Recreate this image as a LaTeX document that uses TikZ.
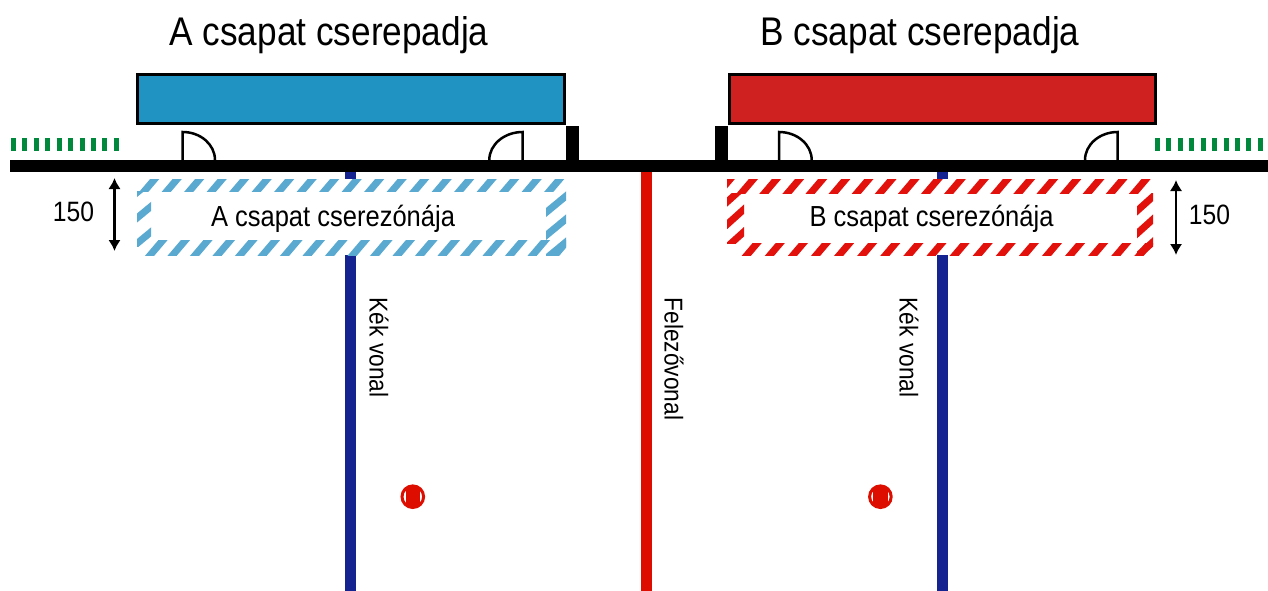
\documentclass[tikz,border=0pt]{standalone}
\usepackage{fontspec}
\setmainfont[FakeStretch=0.88]{Liberation Sans}
\usetikzlibrary{calc}
\usetikzlibrary{arrows.meta}
\tikzset{>=Latex}
\definecolor{teamblue}{HTML}{2193C2}
\definecolor{teamred}{HTML}{CE2120}
\definecolor{hatchblue}{HTML}{5AA9D1}
\definecolor{hatchred}{HTML}{E2110B}
\definecolor{linered}{HTML}{DD0E00}
\definecolor{lineblue}{HTML}{14238F}
\definecolor{benchgreen}{HTML}{00883C}
\tikzset{
  bench/.style={draw=black,line width=3pt},
  door/.style={draw=black,line width=2.5pt},
  wall/.style={fill=black},
  tick/.style={benchgreen,line width=12.4pt,dash pattern=on 5pt off 6.43pt},
  court/.style={line width=11pt},
  size/.style={{Latex[length=11pt,width=12.5pt]}-{Latex[length=11pt,width=12.5pt]},line width=2.4pt},
  title/.style={font=\fontsize{40}{46}\selectfont},
  zone/.style={font=\fontsize{29}{34}\selectfont},
  mark150/.style={font=\fontsize{28}{34}\selectfont},
  linelabel/.style={font=\fontsize{25.8}{30}\selectfont,rotate=-90},
}
% colour, clip corners, first stripe, step to the next, last index, direction
\newcommand{\hatchband}[7]{
  \begin{scope}
    \clip (#2) rectangle (#3);
    \foreach \k in {0,...,#6}
      \draw[#1,line width=7pt] ($(#4)+\k*(#5)-(#7)$) -- ++($2*(#7)$);
  \end{scope}
}
% centre of a ball
\newcommand{\ball}[1]{
  \begin{scope}[shift={(#1)}]
    \draw[linered,line width=3pt,fill=white] (0,0) circle (10.8);
    \clip (0,0) circle (10.8);
    \fill[linered] (-7.2,-12) rectangle (7.2,12);
  \end{scope}
}
\begin{document}
\begin{tikzpicture}[x=1pt,y=-1pt]
  \useasboundingbox (0,0) rectangle (1268,591);

  % titles
  \node[title] (titleA) at (329,35) {A csapat cserepadja};
  \node[title] (titleB) at (920,35) {B csapat cserepadja};

  % benches
  \draw[bench,fill=teamblue] (137.5,75) rectangle (564,124);
  \draw[bench,fill=teamred] (729.5,75) rectangle (1155,124);

  % doors
  \draw[door] (215,160) arc (0:-90:32.3 and 28) -- (182.7,160);
  \draw[door] (489.3,160) arc (-180:-90:33.4 and 28) -- (522.7,160);
  \draw[door] (811.7,160) arc (0:-90:32.7 and 28) -- (779,160);
  \draw[door] (1085,160) arc (-180:-90:32.7 and 28) -- (1117.7,160);

  % green marks
  \draw[tick] (11,144.5) -- (119.5,144.5);
  \draw[tick] (1155,144.5) -- (1268,144.5);

  % court lines
  \draw[lineblue,court] (350.7,171) -- (350.7,179);
  \draw[lineblue,court] (350.7,255) -- (350.7,591);
  \draw[lineblue,court] (942,171) -- (942,179);
  \draw[lineblue,court] (942,255) -- (942,591);
  \draw[linered,court] (646,171) -- (646,591);

  % sideline
  \fill[wall] (10,160) rectangle (1268,171.5);
  \fill[wall] (566,126) rectangle (579,161);
  \fill[wall] (715,126) rectangle (728,161);

  % zone of team A
  \hatchband{hatchblue}{137,179}{566,191}{144.5,191}{22.5,0}{18}{34,-40}
  \hatchband{hatchblue}{137,240}{566,255}{150.3,255}{22.5,0}{18}{34,-40}
  \hatchband{hatchblue}{137,191}{151,246}{137,192.5}{0,25.5}{2}{40,-33}
  \hatchband{hatchblue}{546,191}{566,255}{566,196}{0,23}{2}{40,-33}
  \node[zone] (zoneA) at (333,219) {A csapat cserezónája};

  % zone of team B
  \hatchband{hatchred}{727,179}{1153,193}{741.5,193}{23.1,0}{17}{34,-40}
  \hatchband{hatchred}{727,179}{744,193}{718.4,193}{0,0}{0}{34,-40}
  \hatchband{hatchred}{727,243}{1153,255}{747,255}{23.1,0}{17}{34,-40}
  \hatchband{hatchred}{727,193}{744,243}{727,202}{0,22.5}{2}{40,-36}
  \hatchband{hatchred}{1137,193}{1153,255}{1153,196.5}{0,22.7}{2}{40,-36}
  \node[zone] (zoneB) at (931.5,219) {B csapat cserezónája};

  % 150 marks
  \coordinate (sizeAtop) at (114.5,178);
  \coordinate (sizeAbot) at (114.5,251);
  \coordinate (sizeBtop) at (1176,180);
  \coordinate (sizeBbot) at (1176,255);
  \draw[size] (sizeAtop) -- (sizeAbot);
  \draw[size] (sizeBtop) -- (sizeBbot);
  \node[mark150] (markA) at (73.5,212) {150};
  \node[mark150] (markB) at (1209.5,215) {150};

  % line labels
  \node[linelabel] (kekA) at (379,347.5) {Kék vonal};
  \node[linelabel] (felezo) at (674,359) {Felezővonal};
  \node[linelabel] (kekB) at (909,347.5) {Kék vonal};

  % balls
  \ball{412.8,496.7}
  \ball{880.4,496.7}
\end{tikzpicture}
\end{document}
